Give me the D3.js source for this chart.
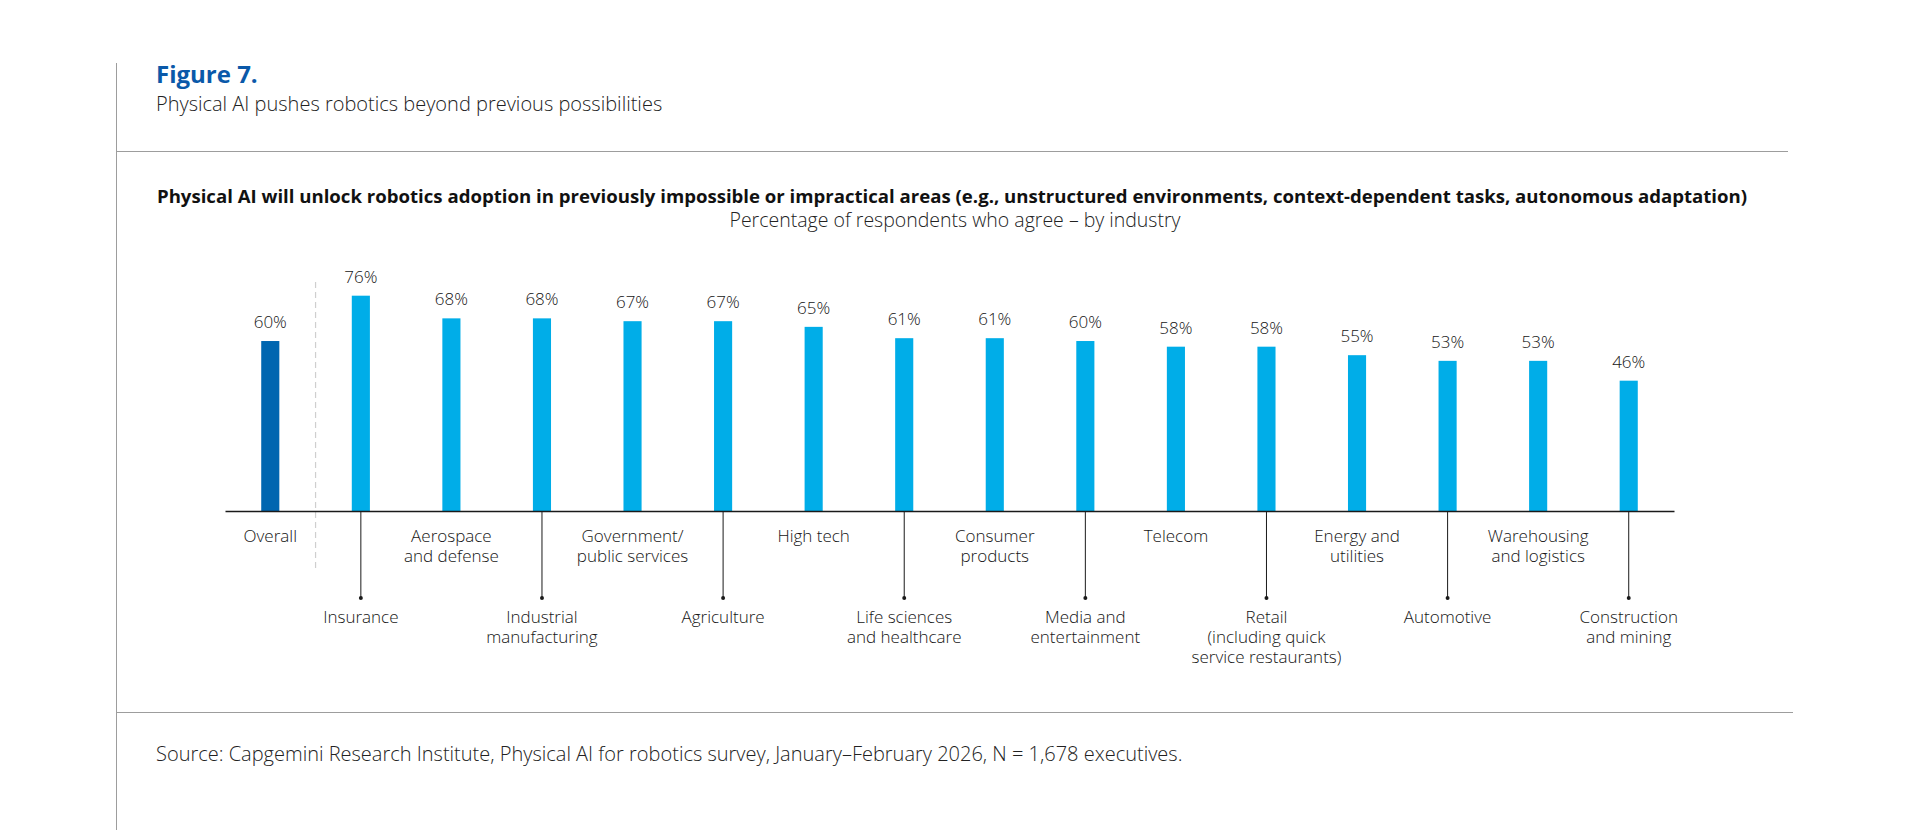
<!DOCTYPE html>
<html>
<head>
<meta charset="utf-8">
<script src="https://cdn.jsdelivr.net/npm/d3@7"></script>
<style>
  html, body { margin: 0; padding: 0; background: #fff; }
  svg { display: block; font-family: "Open Sans", "Noto Sans", sans-serif; }
</style>
</head>
<body>
<div id="chart"></div>
<script>
var categories = ['Overall', 'Insurance', 'Aerospace and defense', 'Industrial manufacturing',
  'Government/ public services', 'Agriculture', 'High tech', 'Life sciences and healthcare',
  'Consumer products', 'Media and entertainment', 'Telecom',
  'Retail (including quick service restaurants)', 'Energy and utilities', 'Automotive',
  'Warehousing and logistics', 'Construction and mining'];
var values = [60, 76, 68, 68, 67, 67, 65, 61, 61, 60, 58, 58, 55, 53, 53, 46];
var labelLines = [
  ['Overall'], ['Insurance'], ['Aerospace', 'and defense'], ['Industrial', 'manufacturing'],
  ['Government/', 'public services'], ['Agriculture'], ['High tech'], ['Life sciences', 'and healthcare'],
  ['Consumer', 'products'], ['Media and', 'entertainment'], ['Telecom'],
  ['Retail', '(including quick', 'service restaurants)'], ['Energy and', 'utilities'], ['Automotive'],
  ['Warehousing', 'and logistics'], ['Construction', 'and mining']
];

(function () {
  var W = 1925, H = 830;
  var baseY = 511;
  var textCol = '#151515';
  var ruleCol = '#9d9d9d';

  var svg = d3.select('#chart').append('svg').attr('width', W).attr('height', H);
  svg.append('rect').attr('width', W).attr('height', H).attr('fill', '#fff');

  // frame rules
  svg.append('line').attr('x1', 116.5).attr('x2', 116.5).attr('y1', 63).attr('y2', H)
    .attr('stroke', ruleCol).attr('stroke-width', 1);
  svg.append('line').attr('x1', 116).attr('x2', 1788).attr('y1', 151.5).attr('y2', 151.5)
    .attr('stroke', ruleCol).attr('stroke-width', 1);
  svg.append('line').attr('x1', 116).attr('x2', 1793).attr('y1', 712.5).attr('y2', 712.5)
    .attr('stroke', ruleCol).attr('stroke-width', 1);

  // headings
  svg.append('text').attr('x', 156).attr('y', 83)
    .attr('fill', '#0a59a9').style('font-size', '24px').style('font-weight', 700)
    .text('Figure 7.');
  svg.append('text').attr('x', 156).attr('y', 111)
    .attr('fill', '#222').style('font-size', '20px').style('font-weight', 300)
    .text('Physical AI pushes robotics beyond previous possibilities');
  svg.append('text').attr('x', 952).attr('y', 203).attr('text-anchor', 'middle')
    .attr('fill', '#111').style('font-size', '18.6px').style('font-weight', 700)
    .text('Physical AI will unlock robotics adoption in previously impossible or impractical areas (e.g., unstructured environments, context-dependent tasks, autonomous adaptation)');
  svg.append('text').attr('x', 955).attr('y', 227).attr('text-anchor', 'middle')
    .attr('fill', '#222').style('font-size', '19.5px').style('font-weight', 300)
    .text('Percentage of respondents who agree \u2013 by industry');
  svg.append('text').attr('x', 156).attr('y', 761)
    .attr('fill', '#222').style('font-size', '20px').style('font-weight', 300)
    .text('Source: Capgemini Research Institute, Physical AI for robotics survey, January\u2013February 2026, N = 1,678 executives.');

  var x = d3.scaleBand().domain(categories).range([225, 1674])
    .paddingInner(0.8).paddingOuter(0.4);
  var y = d3.scaleLinear().domain([0, 100]).range([baseY, baseY - 283.3]);

  // separator between overall and industries
  var sepX = (x(categories[0]) + x(categories[1]) + x.bandwidth()) / 2;
  svg.append('line').attr('x1', sepX).attr('x2', sepX).attr('y1', 282).attr('y2', 568)
    .attr('stroke', '#cfcfcf').attr('stroke-width', 1.2).attr('stroke-dasharray', '6,4');

  // bars
  svg.selectAll('.bar').data(categories).enter().append('rect')
    .attr('class', 'bar')
    .attr('x', function (d) { return x(d); })
    .attr('width', x.bandwidth())
    .attr('y', function (d, i) { return y(values[i]); })
    .attr('height', function (d, i) { return baseY - y(values[i]); })
    .attr('fill', function (d, i) { return i === 0 ? '#0066b0' : '#00ade8'; });

  // value labels
  svg.selectAll('.val').data(categories).enter().append('text')
    .attr('class', 'val')
    .attr('x', function (d) { return x(d) + x.bandwidth() / 2; })
    .attr('y', function (d, i) { return y(values[i]) - 13; })
    .attr('text-anchor', 'middle').attr('fill', textCol)
    .style('font-size', '17px').style('font-weight', 300)
    .text(function (d, i) { return values[i] + '%'; });

  // axis line
  svg.append('g').attr('transform', 'translate(0,' + baseY + ')')
    .call(d3.axisBottom(x).tickSize(0).tickFormat(''))
    .call(function (g) {
      g.select('.domain').attr('stroke', '#1a1a1a').attr('stroke-width', 1.3);
    });

  // leader lines for lower labels (alternate categories)
  var lower = categories.filter(function (d, i) { return i % 2 === 1; });
  svg.selectAll('.leader').data(lower).enter().append('line')
    .attr('class', 'leader')
    .attr('x1', function (d) { return x(d) + x.bandwidth() / 2; })
    .attr('x2', function (d) { return x(d) + x.bandwidth() / 2; })
    .attr('y1', baseY).attr('y2', 598)
    .attr('stroke', '#1a1a1a').attr('stroke-width', 1);
  svg.selectAll('.dot').data(lower).enter().append('circle')
    .attr('class', 'dot')
    .attr('cx', function (d) { return x(d) + x.bandwidth() / 2; })
    .attr('cy', 598).attr('r', 2).attr('fill', '#1a1a1a');

  // category labels
  svg.selectAll('.cat').data(categories).enter().append('text')
    .attr('class', 'cat')
    .attr('x', function (d) { return x(d) + x.bandwidth() / 2; })
    .attr('y', function (d, i) { return i % 2 === 1 ? 623 : 542; })
    .attr('text-anchor', 'middle').attr('fill', textCol)
    .style('font-size', '17px').style('font-weight', 300)
    .each(function (d, i) {
      var t = d3.select(this);
      var cx = t.attr('x');
      labelLines[i].forEach(function (ln, k) {
        t.append('tspan').attr('x', cx).attr('dy', k === 0 ? 0 : 20).text(ln);
      });
    });
})();
</script>
</body>
</html>
